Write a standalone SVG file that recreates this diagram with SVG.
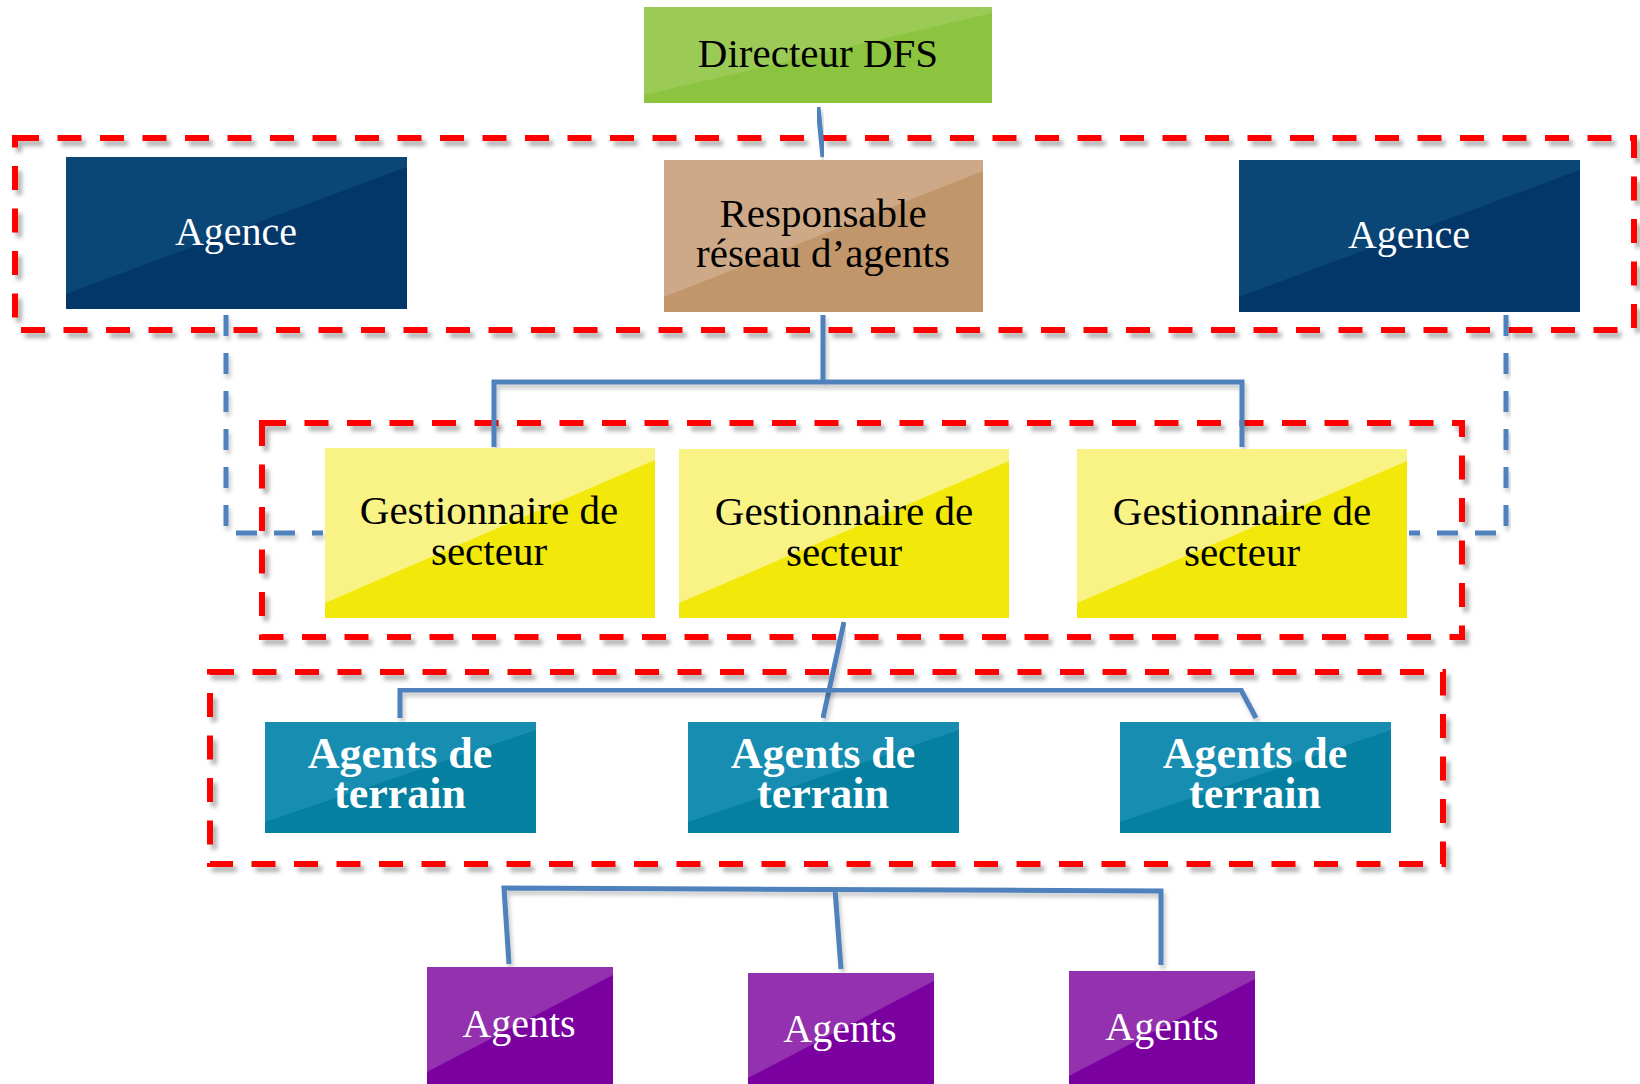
<svg xmlns="http://www.w3.org/2000/svg" width="1640" height="1084" viewBox="0 0 1640 1084">
<defs>
<filter id="sh" x="-5%" y="-5%" width="110%" height="115%">
<feDropShadow dx="4" dy="5" stdDeviation="2" flood-color="#000" flood-opacity="0.3"/>
</filter>
<filter id="sh2" x="-5%" y="-5%" width="110%" height="130%">
<feDropShadow dx="2" dy="4" stdDeviation="2" flood-color="#000" flood-opacity="0.22"/>
</filter>
<style>
.zone{fill:none;stroke:#ff0000;stroke-width:6;stroke-dasharray:24 18.5;filter:url(#sh)}
.con{fill:none;stroke:#4f81bd;stroke-width:5;filter:url(#sh2)}
.dash{stroke-dasharray:21 17}
.t{font-family:"Liberation Serif","Times New Roman",serif;font-size:41px;text-anchor:middle;fill:#000}
.w{fill:#fff;font-size:40px}
.b{fill:#fff;font-size:44px;font-weight:bold}
.gD{fill:#8cc43f}.gL{fill:#9bcb56}
.nD{fill:#033669}.nL{fill:#0a4676}
.tD{fill:#c0966a}.tL{fill:#cea987}
.yD{fill:#f2e90a}.yL{fill:#f9f386}
.cD{fill:#0580a0}.cL{fill:#178eb1}
.pD{fill:#7b00a0}.pL{fill:#9331ae}
</style>
</defs>
<rect width="1640" height="1084" fill="#fff"/>
<g id="zones">
<rect class="zone" x="15" y="138" width="1619" height="192"/>
<rect class="zone" x="262" y="423" width="1200" height="214"/>
<rect class="zone" x="210" y="672" width="1233" height="192"/>
</g>
<g id="connectors">
<path class="con" d="M818 107 L823 157"/>
<path class="con" d="M823 315 L823 382 M494 447 L494 382 L1242 382 L1242 447"/>
<path class="con dash" d="M226 315 L226 533 L323 533"/>
<path class="con dash" d="M1506 315 L1506 533 L1409 533"/>
<path class="con" d="M844 622 L823 718"/>
<path class="con" d="M400 718 L400 690 L1241 690 L1256 718"/>
<path class="con" d="M509 964 L504 888 L1161 891 L1161 965 M835 889 L841 969"/>
</g>
<g id="directeur">
<rect class="gD" x="644" y="7" width="348" height="96"/>
<polygon class="gL" points="644,7 992,7 992,13 644,95"/>
<text class="t" x="818" y="67">Directeur DFS</text>
</g>
<g id="agence1">
<rect class="nD" x="66" y="157" width="341" height="152"/>
<polygon class="nL" points="66,157 407,157 407,167 66,294"/>
<text class="t w" x="236" y="245">Agence</text>
</g>
<g id="responsable">
<rect class="tD" x="664" y="160" width="319" height="152"/>
<polygon class="tL" points="664,160 983,160 983,171 664,297"/>
<text class="t" x="823" y="227">Responsable</text>
<text class="t" x="823" y="267">réseau d’agents</text>
</g>
<g id="agence2">
<rect class="nD" x="1239" y="160" width="341" height="152"/>
<polygon class="nL" points="1239,160 1580,160 1580,170 1239,297"/>
<text class="t w" x="1409" y="248">Agence</text>
</g>
<g id="gestionnaire1">
<rect class="yD" x="325" y="448" width="330" height="170"/>
<polygon class="yL" points="325,448 655,448 655,460 325,603"/>
<text class="t" x="489" y="524">Gestionnaire de</text>
<text class="t" x="489" y="565">secteur</text>
</g>
<g id="gestionnaire2">
<rect class="yD" x="679" y="449" width="330" height="169"/>
<polygon class="yL" points="679,449 1009,449 1009,461 679,603"/>
<text class="t" x="844" y="525">Gestionnaire de</text>
<text class="t" x="844" y="566">secteur</text>
</g>
<g id="gestionnaire3">
<rect class="yD" x="1077" y="449" width="330" height="169"/>
<polygon class="yL" points="1077,449 1407,449 1407,461 1077,603"/>
<text class="t" x="1242" y="525">Gestionnaire de</text>
<text class="t" x="1242" y="566">secteur</text>
</g>
<g id="terrain1">
<rect class="cD" x="265" y="722" width="271" height="111"/>
<polygon class="cL" points="265,722 536,722 536,730 265,822"/>
<text class="t b" x="400" y="768">Agents de</text>
<text class="t b" x="400" y="808">terrain</text>
</g>
<g id="terrain2">
<rect class="cD" x="688" y="722" width="271" height="111"/>
<polygon class="cL" points="688,722 959,722 959,730 688,822"/>
<text class="t b" x="823" y="768">Agents de</text>
<text class="t b" x="823" y="808">terrain</text>
</g>
<g id="terrain3">
<rect class="cD" x="1120" y="722" width="271" height="111"/>
<polygon class="cL" points="1120,722 1391,722 1391,730 1120,822"/>
<text class="t b" x="1255" y="768">Agents de</text>
<text class="t b" x="1255" y="808">terrain</text>
</g>
<g id="agents1">
<rect class="pD" x="427" y="967" width="186" height="125"/>
<polygon class="pL" points="427,967 613,967 613,975 427,1072"/>
<text class="t w" x="519" y="1037">Agents</text>
</g>
<g id="agents2">
<rect class="pD" x="748" y="973" width="186" height="125"/>
<polygon class="pL" points="748,973 934,973 934,981 748,1078"/>
<text class="t w" x="840" y="1042">Agents</text>
</g>
<g id="agents3">
<rect class="pD" x="1069" y="971" width="186" height="125"/>
<polygon class="pL" points="1069,971 1255,971 1255,979 1069,1076"/>
<text class="t w" x="1162" y="1040">Agents</text>
</g>
</svg>
